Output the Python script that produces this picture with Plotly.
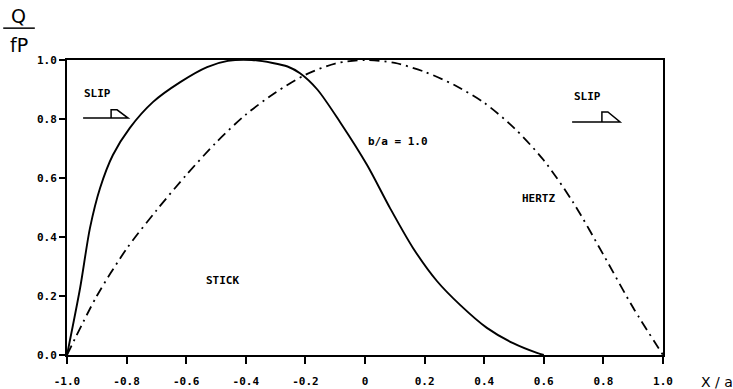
import plotly.graph_objects as go

# Solid curve (b/a = 1.0)
x_solid = [-1.0, -0.956, -0.923, -0.889, -0.846, -0.789, -0.711, -0.62, -0.53,
           -0.46, -0.38, -0.31, -0.26, -0.218, -0.16, -0.084, 0.007, 0.084, 0.161, 0.242,
           0.319, 0.409, 0.497, 0.577, 0.6]
y_solid = [0.0, 0.227, 0.43, 0.566, 0.678, 0.77, 0.858, 0.925, 0.976,
           0.997, 1.0, 0.99, 0.978, 0.955, 0.9, 0.79, 0.644, 0.498, 0.363, 0.25,
           0.17, 0.092, 0.04, 0.007, 0.0]

# Hertz curve (dash-dot)
x_hertz = [-1.0, -0.9, -0.8, -0.7, -0.6, -0.5, -0.4, -0.3, -0.2, -0.1, 0.0,
           0.1, 0.2, 0.3, 0.4, 0.5, 0.6, 0.7, 0.8, 0.9, 1.0]
y_hertz = [0.0, 0.2, 0.36, 0.49, 0.61, 0.72, 0.815, 0.89, 0.95, 0.988, 1.0,
           0.99, 0.96, 0.915, 0.855, 0.77, 0.66, 0.515, 0.34, 0.16, 0.0]

x_ticks = [-1.0, -0.8, -0.6, -0.4, -0.2, 0.0, 0.2, 0.4, 0.6, 0.8, 1.0]
x_ticklabels = ["-1.0", "-0.8", "-0.6", "-0.4", "-0.2", "0", "0.2", "0.4", "0.6", "0.8", "1.0"]
y_ticks = [0.0, 0.2, 0.4, 0.6, 0.8, 1.0]
y_ticklabels = ["0.0", "0.2", "0.4", "0.6", "0.8", "1.0"]

fig = go.Figure()
fig.add_trace(go.Scatter(x=x_hertz, y=y_hertz, mode="lines",
                         line=dict(color="black", width=1.8, dash="10px,5px,2px,5px",
                                   shape="spline", smoothing=0.8),
                         cliponaxis=False, showlegend=False))
fig.add_trace(go.Scatter(x=x_solid, y=y_solid, mode="lines",
                         line=dict(color="black", width=1.9, shape="spline", smoothing=0.8),
                         cliponaxis=False, showlegend=False))

tf = dict(family="DejaVu Sans Mono", size=11, color="black", weight="bold")
fig.update_layout(
    width=733, height=389,
    margin=dict(l=67, r=70, t=60, b=34),
    paper_bgcolor="white", plot_bgcolor="white",
    xaxis=dict(range=[-1, 1], tickvals=x_ticks, ticktext=x_ticklabels,
               ticks="outside", ticklen=7, tickwidth=1.5, tickcolor="black",
               ticklabelstandoff=8, automargin=False,
               showline=True, linecolor="black", linewidth=2, mirror=True,
               showgrid=False, zeroline=False, tickfont=tf),
    yaxis=dict(range=[0, 1], tickvals=y_ticks, ticktext=y_ticklabels,
               ticks="outside", ticklen=6, tickwidth=1.5, tickcolor="black",
               automargin=False,
               showline=True, linecolor="black", linewidth=2, mirror=True,
               showgrid=False, zeroline=False, tickfont=tf),
)

lab = dict(family="DejaVu Sans Mono", size=11, color="black", weight="bold")
def text(x, y, s, font=lab, xref="x", yref="y"):
    fig.add_annotation(x=x, y=y, text=s, showarrow=False, font=font,
                       xref=xref, yref=yref, xanchor="center", yanchor="middle")

text(-0.896, 0.888, "SLIP")
text(0.745, 0.875, "SLIP")
text(0.111, 0.725, "b/a = 1.0")
text(0.581, 0.532, "HERTZ")
text(-0.477, 0.254, "STICK")

# axis titles
big = dict(family="DejaVu Sans", size=19, color="black")
text(-0.081, 1.15, "Q", font=big, xref="paper", yref="paper")
text(-0.081, 1.05, "fP", font=big, xref="paper", yref="paper")
fig.add_shape(type="line", xref="paper", yref="paper", x0=-0.107, x1=-0.054,
              y0=1.108, y1=1.108, line=dict(color="black", width=1.5))
text(1.09, -0.09, "X / a", font=dict(family="DejaVu Sans", size=14, color="black"),
     xref="paper", yref="paper")

# slip arrows (half arrowheads)
for (x0, x1, xt, yl, yt) in [(-0.946, -0.795, -0.852, 0.803, 0.831),
                             (0.695, 0.856, 0.795, 0.79, 0.824)]:
    fig.add_shape(type="path", xref="x", yref="y",
                  path=f"M {x0} {yl} L {x1} {yl} L {xt + 0.02} {yt} L {xt} {yt} L {xt} {yl}",
                  line=dict(color="black", width=1.5))

fig.write_html("out.html")
